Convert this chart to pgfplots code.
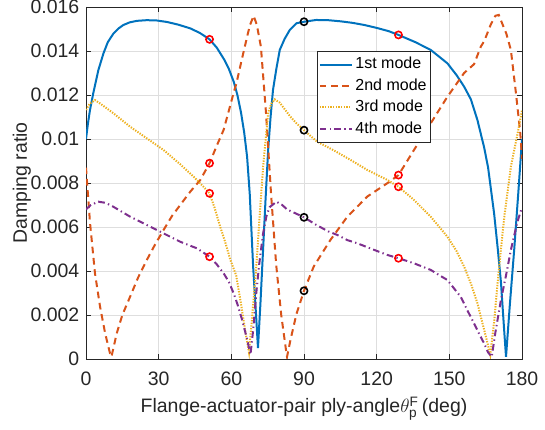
\documentclass[border=0pt]{standalone}
\usepackage{amsmath}
\usepackage{pgfplots}
\pgfplotsset{compat=1.18}
\usepackage{fontspec}
\setmainfont{Liberation Sans}
\definecolor{mA}{rgb}{0,0.447,0.741}
\definecolor{mB}{rgb}{0.85,0.325,0.098}
\definecolor{mC}{rgb}{0.929,0.694,0.125}
\definecolor{mD}{rgb}{0.494,0.184,0.556}
\definecolor{axgray}{rgb}{0.15,0.15,0.15}
\pgfplotstableread{
x y
0 0.0100
0.8 0.0107
1.65 0.01132
3 0.01208
5.1 0.01313
7.2 0.01389
9 0.0144
11.3 0.01479
13.5 0.01503
15.4 0.01518
18 0.0153
21 0.01537
25 0.0154
29 0.01539
33.4 0.01532
38 0.0152
43 0.01503
47 0.01482
51 0.01453
54 0.01415
57 0.01362
59 0.01318
61 0.0126
62.5 0.0120
64 0.0112
65.3 0.0103
66.5 0.0092
67.6 0.0075
69 0.0042
70.2 0.0020
71 0.0005
72 0.0025
73.1 0.00495
74.1 0.0072
75.2 0.0095
76.2 0.0110
77.2 0.01223
78.6 0.0132
80 0.01405
82 0.01455
84.1 0.01495
86.9 0.01526
90 0.01533
95 0.01541
100 0.0154
105 0.01535
110 0.01528
115 0.01518
120 0.01505
125 0.0149
129 0.01473
136 0.0144
142.3 0.01405
149.2 0.01344
153 0.0129
156.1 0.01238
158.9 0.0118
161.6 0.01086
164.4 0.0096
166 0.0087
168.5 0.0066
170 0.0050
171.3 0.0035
172.7 0.0012
173.4 0.0001
175 0.0025
176.8 0.0050
178.5 0.0076
180 0.0100
}\modeA
\pgfplotstableread{
x y
0 0.0087
1.65 0.0062
3.7 0.0039
5.8 0.00238
7.9 0.00117
9.9 0.00026
10.5 0.0001
12.7 0.00117
15 0.0020
18.2 0.00283
21.5 0.0037
25.1 0.0045
28.5 0.0052
32 0.00586
35.5 0.0065
38.9 0.0070
43 0.0076
47.2 0.00814
51 0.0089
54 0.0097
56.8 0.01041
59 0.0113
60.9 0.01208
62.1 0.01253
64.4 0.01365
66.2 0.0145
67.6 0.01515
69.2 0.0156
70.5 0.0152
72.2 0.0142
74.3 0.0112
76.4 0.0075
78.5 0.0043
80.6 0.0020
82.7 0.0003
83.0 0.0001
84.4 0.00086
86.9 0.00205
90 0.0031
94 0.0042
100.9 0.00541
107.9 0.00647
116.1 0.00738
124.4 0.00799
129 0.00836
135.4 0.0095
142.3 0.01071
149.2 0.01192
156.1 0.01300
160.2 0.0134
163 0.0142
164.4 0.01445
167.1 0.0152
169 0.0156
170.4 0.01564
172 0.0152
173.5 0.0148
175.4 0.01405
177.5 0.01208
179.3 0.01026
180 0.0091
}\modeB
\pgfplotstableread{
x y
0 0.01132
1.5 0.0116
3.7 0.01177
6 0.0116
11.3 0.01117
18.2 0.01056
25.1 0.01003
32 0.0095
38.9 0.00885
44.4 0.00829
48.5 0.00783
51 0.00753
53 0.0069
55.4 0.00601
57.5 0.0053
59.6 0.0045
62 0.0038
64 0.0025
66 0.0011
67.3 0.0003
68.5 0.0018
70.3 0.0042
72 0.0070
73.1 0.0087
75.2 0.0112
76.5 0.0116
77.9 0.0118
80 0.01165
84.4 0.01101
87 0.0107
90 0.0104
95.4 0.00988
102 0.0095
109.2 0.00905
116 0.0086
124.4 0.00814
129 0.00783
135.4 0.00723
142.3 0.00647
149.2 0.00556
153 0.0049
156.1 0.0042
159 0.0034
161.6 0.00253
163.5 0.0017
165.1 0.00101
166.9 0.0002
168.5 0.0017
169.9 0.0034
171.3 0.0050
172.7 0.00647
175.4 0.00874
178.2 0.01026
180 0.0113
}\modeC
\pgfplotstableread{
x y
0 0.0068
2 0.0070
5.1 0.00715
8 0.0071
11.3 0.00692
18.2 0.00647
25.1 0.00609
32 0.00571
38.9 0.00533
45.8 0.00503
51 0.00465
54 0.0043
56.8 0.0039
59 0.0035
60.9 0.0030
62.5 0.0025
64.4 0.0018
66.5 0.0009
67.9 0.0002
69 0.0013
70.3 0.0030
71.5 0.0043
73.1 0.0057
74.5 0.0065
75.8 0.0069
78.6 0.00715
81 0.0070
83 0.0068
86.9 0.0066
90 0.00644
95 0.0061
100 0.0058
103.7 0.00564
108 0.0054
112 0.00526
118 0.0050
124.4 0.00473
129 0.00458
135.4 0.00435
142.3 0.00405
146 0.0038
149.2 0.00359
152 0.0032
154.7 0.00283
157.5 0.0022
160.2 0.00162
162.5 0.0011
164.4 0.0007
166 0.0003
167.5 0.0001
169 0.0012
171.3 0.00268
173.4 0.0038
175.4 0.00495
178 0.0062
180 0.0069
}\modeD
\begin{document}
\fontsize{14.6}{17}\selectfont
\begin{tikzpicture}
\begin{axis}[
  scale only axis,
  width=327pt, height=264pt,
  xmin=0, xmax=180, ymin=0, ymax=0.016,
  xtick={0,30,60,90,120,150,180},
  ytick={0,0.002,0.004,0.006,0.008,0.01,0.012,0.014,0.016},
  scaled y ticks=false,
  yticklabel style={/pgf/number format/fixed,/pgf/number format/precision=3},
  xticklabel style={yshift=-4.5pt},
  /pgf/number format/assume math mode=true,
  tick label style={font=\fontsize{14.6}{17}\selectfont, text=axgray},
  label style={font=\fontsize{14.6}{17}\selectfont, text=axgray},
  grid=major,
  major grid style={line width=0.5pt, draw=black!13},
  axis line style={line width=0.6pt, draw=axgray},
  every tick/.style={line width=0.6pt, draw=axgray},
  tick align=inside,
  tick pos=both,
  xticklabel pos=lower, yticklabel pos=left,
  major tick length=4pt,
  xlabel={Flange-actuator-pair ply-angle$\theta_{\text{p}}^{\text{F}}$\,(deg)},
  ylabel={Damping ratio},
  xlabel style={at={(axis description cs:0.5,0)}, anchor=base, yshift=-40.5pt},
  ylabel style={at={(axis description cs:-0.147,0.5)}, anchor=center},
  legend style={at={(0.530,0.875)}, anchor=north west, draw=axgray, line width=0.5pt, fill=white,
    font=\fontsize{12}{14}\selectfont, inner xsep=1pt, inner ysep=2.5pt, row sep=1.2pt, cells={anchor=west}},
  legend image code/.code={\draw[#1] plot coordinates {(0pt,0pt) (12pt,0pt) (24pt,0pt)};},
  every axis plot/.append style={line width=1.5pt},
]
\addplot[mA, solid] table[x=x,y=y] {\modeA};
\addlegendentry{1st mode}
\addplot[mB, dash pattern=on 5pt off 3.5pt] table[x=x,y=y] {\modeB};
\addlegendentry{2nd mode}
\addplot[mC, dash pattern=on 1pt off 1pt] table[x=x,y=y] {\modeC};
\addlegendentry{3rd mode}
\addplot[mD, dash pattern=on 5pt off 2.5pt on 1pt off 2.5pt] table[x=x,y=y] {\modeD};
\addlegendentry{4th mode}
\addplot[forget plot, only marks, mark=o, red, mark size=2.7pt, line width=1.2pt] coordinates {
 (51,0.01453) (51,0.0089) (51,0.00753) (51,0.00465)
 (129,0.01473) (129,0.00836) (129,0.00783) (129,0.00458)};
\addplot[forget plot, only marks, mark=o, black, mark size=2.7pt, line width=1.2pt] coordinates {
 (90,0.01533) (90,0.0104) (90,0.00644) (90,0.0031)};
\end{axis}
\pgfresetboundingbox
\path ([xshift=-64.5pt,yshift=-53.25pt]current axis.south west) rectangle ([xshift=17.25pt,yshift=5.25pt]current axis.north east);
\end{tikzpicture}
\end{document}
